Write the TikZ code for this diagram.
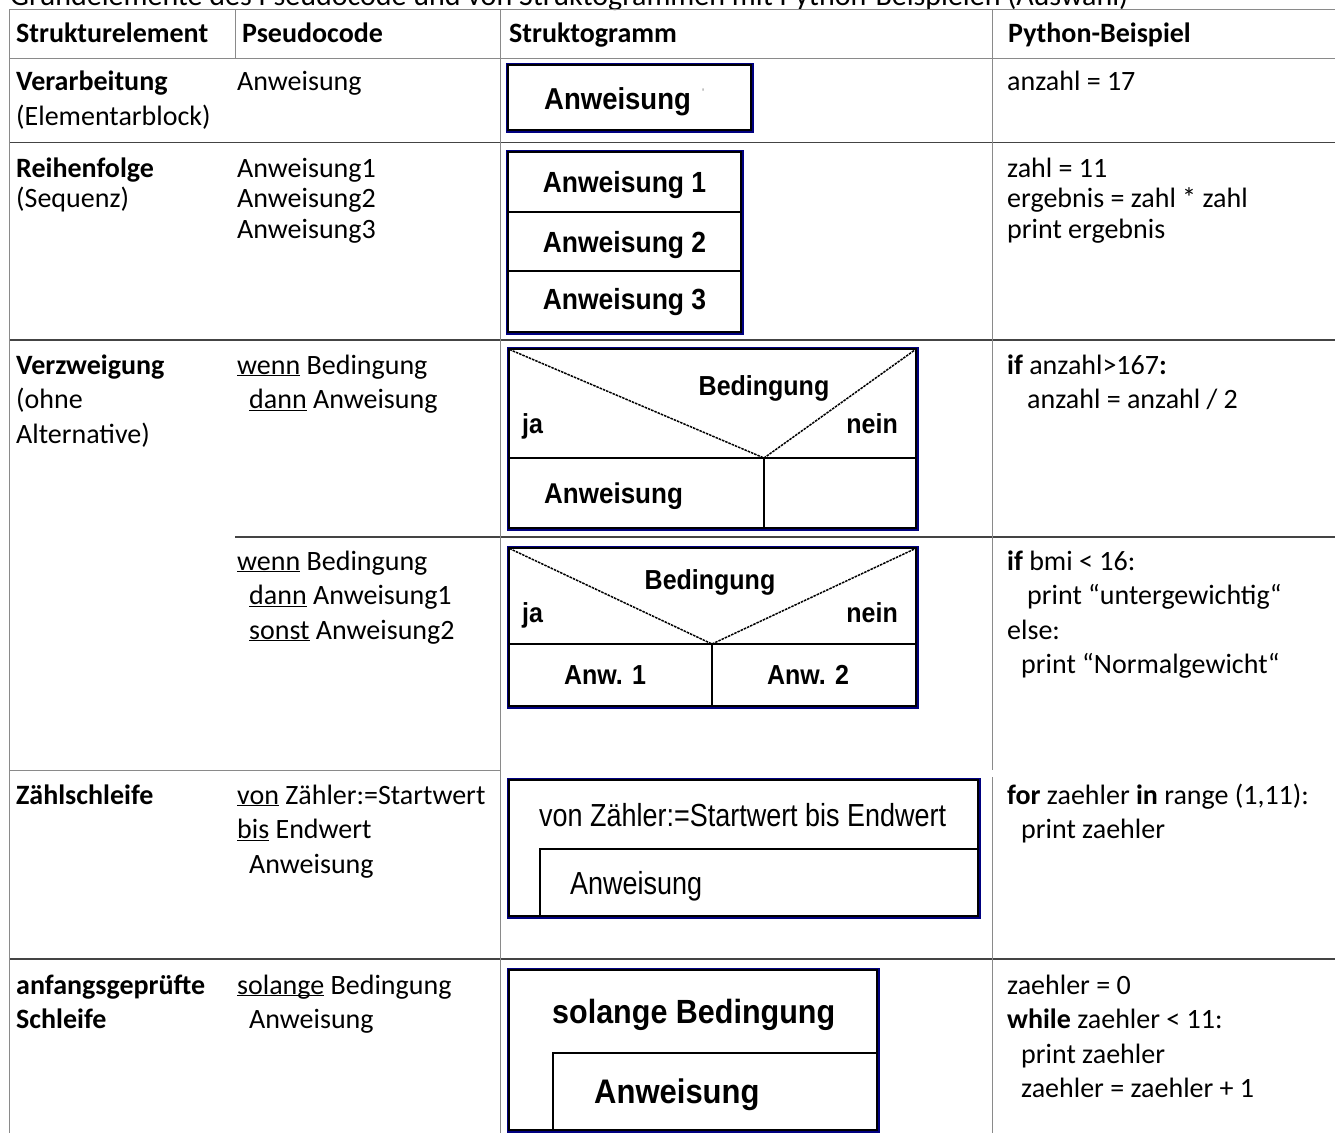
\documentclass[tikz,border=0pt]{standalone}
\usepackage{fontspec}
\usepackage{graphicx}
\setmainfont{Carlito}
\newfontfamily\skfont{Liberation Sans}
\newfontfamily\sknarrow[FakeStretch=0.93]{Liberation Sans}
\definecolor{rulegray}{HTML}{8A8A8A}
\definecolor{ruledark}{HTML}{444444}
\definecolor{sknavy}{HTML}{000080}
\newcommand{\bodyfont}{\fontsize{28}{34}\selectfont}
\newcommand{\skb}[1]{\skfont\bfseries\fontsize{#1}{#1}\selectfont}
\newcommand{\skn}[1]{\sknarrow\fontsize{#1}{#1}\selectfont}
\newcommand{\tall}[1]{\scalebox{1}[1.1]{#1}}
\newcommand{\ul}[1]{\underline{\smash{#1}}}
\newcommand{\skrect}[4]{%
  \draw[draw=sknavy,line width=3pt] (#1,#2) rectangle (#3,#4);
  \draw[line width=1.6pt] (#1+0.8,#2+0.8) rectangle (#3-0.8,#4-0.8);}
\begin{document}
\begin{tikzpicture}[x=1pt,y=-1pt,
    every node/.style={inner sep=0pt},
    txt/.style={anchor=base west,font=\bodyfont},
    hd/.style={anchor=base west,font=\bodyfont\bfseries},
    thinrule/.style={draw=rulegray,line width=1pt},
    thickrule/.style={draw=ruledark,line width=1.6pt},
    skline/.style={line width=1.6pt},
    diag/.style={line width=1.5pt,dash pattern=on 2.5pt off 1pt}]
    \useasboundingbox (0,0) rectangle (1335,1133);
    \node[anchor=base west,font=\fontsize{30}{34}\selectfont] (title) at (10,5) {Grundelemente des Pseudocode und von Struktogrammen mit Python-Beispielen (Auswahl)};
    \draw[thinrule] (9.5,9) -- (1335,9);
    \draw[thinrule] (9.5,58) -- (1335,58);
    \draw[thickrule] (9.5,142.5) -- (1335,142.5);
    \draw[thickrule] (9.5,340) -- (1335,340);
    \draw[thickrule] (235,537) -- (1335,537);
    \draw[thinrule] (9.5,770) -- (500,770);
    \draw[thickrule] (9.5,959) -- (1335,959);
    \draw[thinrule] (9.5,9) -- (9.5,1133);
    \draw[thinrule] (235,9) -- (235,58);
    \draw[thinrule] (500,9) -- (500,1133);
    \draw[thinrule] (992.5,9) -- (992.5,770) (992.5,777) -- (992.5,1133);
    \node[hd] (h1) at (16,42) {Strukturelement};
    \node[hd] (h2) at (242,42) {Pseudocode};
    \node[hd] (h3) at (509,42) {Struktogramm};
    \node[hd] (h4) at (1008,42) {Python-Beispiel};
    \node[hd] (e1) at (16,90) {Verarbeitung};
    \node[txt] (e1b) at (16,125) {(Elementarblock)};
    \node[txt] (p1) at (237,90) {Anweisung};
    \node[txt] (y1) at (1007,90) {anzahl = 17};
    \node[hd] (e2) at (16,177) {Reihenfolge};
    \node[txt] (e2b) at (16,207.5) {(Sequenz)};
    \node[txt] (p2a) at (237,177) {Anweisung1};
    \node[txt] (p2b) at (237,207.5) {Anweisung2};
    \node[txt] (p2c) at (237,238) {Anweisung3};
    \node[txt] (y2a) at (1007,177) {zahl = 11};
    \node[txt] (y2b) at (1007,207.5) {ergebnis = zahl * zahl};
    \node[txt] (y2c) at (1007,238) {print ergebnis};
    \node[hd] (e3) at (16,374) {Verzweigung};
    \node[txt] (e3b) at (16,408.5) {(ohne};
    \node[txt] (e3c) at (16,443) {Alternative)};
    \node[txt] (p3a) at (237,374) {\ul{wenn} Bedingung};
    \node[txt] (p3b) at (249,408.5) {\ul{dann} Anweisung};
    \node[txt] (y3a) at (1007,374) {\textbf{if} anzahl>167\textbf{:}};
    \node[txt] (y3b) at (1027,408.5) {anzahl = anzahl / 2};
    \node[txt] (p4a) at (237,570) {\ul{wenn} Bedingung};
    \node[txt] (p4b) at (249,604.5) {\ul{dann} Anweisung1};
    \node[txt] (p4c) at (249,639) {\ul{sonst} Anweisung2};
    \node[txt] (y4a) at (1007,570) {\textbf{if} bmi < 16:};
    \node[txt] (y4b) at (1027,604.5) {print “untergewichtig“};
    \node[txt] (y4c) at (1007,639) {else:};
    \node[txt] (y4d) at (1021,673.5) {print “Normalgewicht“};
    \node[hd] (e5) at (16,804) {Zählschleife};
    \node[txt] (p5a) at (237,804) {\ul{von} Zähler:=Startwert};
    \node[txt] (p5b) at (237,838.5) {\ul{bis} Endwert};
    \node[txt] (p5c) at (249,873) {Anweisung};
    \node[txt] (y5a) at (1007,804) {\textbf{for} zaehler \textbf{in} range (1,11):};
    \node[txt] (y5b) at (1021,838.5) {print zaehler};
    \node[hd] (e6) at (16,994) {anfangsgeprüfte};
    \node[hd] (e6b) at (16,1028.5) {Schleife};
    \node[txt] (p6a) at (237,994) {\ul{solange} Bedingung};
    \node[txt] (p6b) at (249,1028.5) {Anweisung};
    \node[txt] (y6a) at (1007,994) {zaehler = 0};
    \node[txt] (y6b) at (1007,1028.5) {\textbf{while} zaehler < 11:};
    \node[txt] (y6c) at (1021,1063) {print zaehler};
    \node[txt] (y6d) at (1021,1097.5) {zaehler = zaehler + 1};
    \skrect{507}{64}{752}{131}
    \node[anchor=base west,font=\skb{27.5}] (s1) at (544,109) {\tall{Anweisung}};
    \node[anchor=base west,font=\skfont\fontsize{11}{11}\selectfont,text=gray] (s1t) at (702,96) {\textquotesingle};
    \skrect{507}{151}{742}{333}
    \draw[skline] (507,212) -- (742,212);
    \draw[skline] (507,271) -- (742,271);
    \node[anchor=base,font=\skb{26.5}] (s2a) at (624.5,192) {\tall{Anweisung 1}};
    \node[anchor=base,font=\skb{26.5}] (s2b) at (624.5,252) {\tall{Anweisung 2}};
    \node[anchor=base,font=\skb{26.5}] (s2c) at (624.5,309.5) {\tall{Anweisung 3}};
    \skrect{508}{348}{917}{529}
    \coordinate (a3) at (764,458);
    \draw[skline] (508,458) -- (917,458);
    \draw[skline] (a3) -- (764,529);
    \draw[diag] (509.5,349.5) -- (a3) -- (915.5,349.5);
    \node[anchor=base,font=\skb{25}] (b3) at (764,395) {\tall{Bedingung}};
    \node[anchor=base west,font=\skb{25}] (ja3) at (522,433) {\tall{ja}};
    \node[anchor=base east,font=\skb{25}] (nein3) at (898,433) {\tall{nein}};
    \node[anchor=base west,font=\skb{26}] (s3) at (544,503) {\tall{Anweisung}};
    \skrect{508}{547}{917}{707}
    \coordinate (a4) at (712,644);
    \draw[skline] (508,644) -- (917,644);
    \draw[skline] (a4) -- (712,707);
    \draw[diag] (509.5,548.5) -- (a4) -- (915.5,548.5);
    \node[anchor=base,font=\skb{25}] (b4) at (710,589.5) {\tall{Bedingung}};
    \node[anchor=base west,font=\skb{25}] (ja4) at (522,622) {\tall{ja}};
    \node[anchor=base east,font=\skb{25}] (nein4) at (898,622) {\tall{nein}};
    \node[anchor=base,font=\skb{25}] (s4a) at (605,684) {\tall{Anw. 1}};
    \node[anchor=base,font=\skb{25}] (s4b) at (808,684) {\tall{Anw. 2}};
    \skrect{508}{779}{979}{917}
    \draw[skline] (540,917) -- (540,849) -- (979,849);
    \node[anchor=base west,font=\skn{29}] (s5a) at (539,826) {\tall{von Zähler:=Startwert bis Endwert}};
    \node[anchor=base west,font=\skn{29}] (s5b) at (570,894) {\tall{Anweisung}};
    \skrect{508}{969}{878}{1131}
    \draw[skline] (553,1131) -- (553,1053) -- (878,1053);
    \node[anchor=base west,font=\skb{30.5}] (s6a) at (552,1023) {\tall{solange Bedingung}};
    \node[anchor=base west,font=\skb{31}] (s6b) at (594,1103) {\tall{Anweisung}};
\end{tikzpicture}
\end{document}
